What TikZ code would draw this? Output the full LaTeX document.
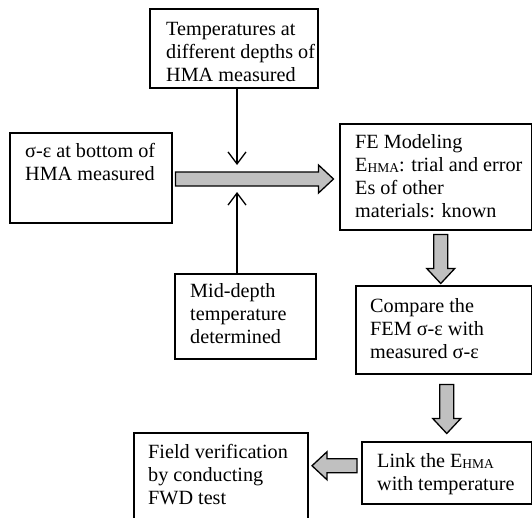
\documentclass[tikz,border=0pt]{standalone}
\usepackage{fontspec}
\setmainfont{Liberation Serif}
\usetikzlibrary{arrows.meta,calc}
\definecolor{arrowgray}{RGB}{192,192,192}
\newcommand{\ehma}{E{\fontsize{13.5}{13.5}\selectfont\raisebox{-1.5pt}{HMA}}}
\tikzset{
	box/.style={draw, line width=1.5pt, anchor=north west, inner sep=0pt},
	txt/.style={anchor=north west, align=left, inner sep=0pt, font=\fontsize{20.2}{23}\selectfont},
	thin/.style={line width=1.3pt, -{Straight Barb[length=12pt, width=18pt, line width=1.3pt]}},
	pics/bigarrow/.style={
			code={\draw[fill=arrowgray, line width=1.3pt, line join=miter]
					(0,-7) -- (#1-15,-7) -- (#1-15,-14) -- (#1,0) -- (#1-15,14) -- (#1-15,7) -- (0,7) -- cycle;}
		}
}

\begin{document}
\begin{tikzpicture}[x=1pt, y=-1pt]
			\useasboundingbox (0,0) rectangle (532,517);
			\clip (0,0) rectangle (532,517);

			\node[box, minimum width=168, minimum height=79] (temp) at (149,8) {};
			\node[box, minimum width=162, minimum height=90] (sig) at (9,132) {};
			\node[box, minimum width=192, minimum height=106] (fe) at (339,123) {};
			\node[box, minimum width=141, minimum height=85] (mid) at (174,273) {};
			\node[box, minimum width=176, minimum height=88] (cmp) at (355,285) {};
			\node[box, minimum width=170, minimum height=62] (link) at (361,441) {};
			\node[box, minimum width=174, minimum height=100] (field) at (133,432) {};

			\node[txt] (temp-t) at ($(temp.north west)+(17,14)$) {Temperatures at\\different depths of\\HMA measured};
			\node[txt] (sig-t) at ($(sig.north west)+(16,11)$) {σ-ε at bottom of\\HMA measured};
			\node[txt] (fe-t) at ($(fe.north west)+(16,11)$) {FE Modeling\\\ehma: trial and error\\Es of other\\materials: known};
			\node[txt] (mid-t) at ($(mid.north west)+(16,10)$) {Mid-depth\\temperature\\determined};
			\node[txt] (cmp-t) at ($(cmp.north west)+(15,13)$) {Compare the\\FEM σ-ε with\\measured σ-ε};
			\node[txt] (link-t) at ($(link.north west)+(16,12)$) {Link the \ehma\\with temperature};
			\node[txt] (field-t) at ($(field.north west)+(15,12)$) {Field verification\\by conducting\\FWD test};

			\coordinate (mix) at (237,179);
			\draw[thin] (temp.south -| mix) -- ($(mix)+(0,-14)$);
			\draw[thin] (mid.north -| mix) -- ($(mix)+(0,13)$);

			\pic at ($(sig.east |- mix)+(3,0)$) {bigarrow=158};
			\pic[rotate=-90] at ($(fe.south)+(5,4)$) {bigarrow=49};
			\pic[rotate=-90] at ($(link.north |- cmp.south)+(0,10)$) {bigarrow=49};
			\pic[rotate=180] at ($(link.west)+(-4,-7)$) {bigarrow=45};
		\end{tikzpicture}
\end{document}
